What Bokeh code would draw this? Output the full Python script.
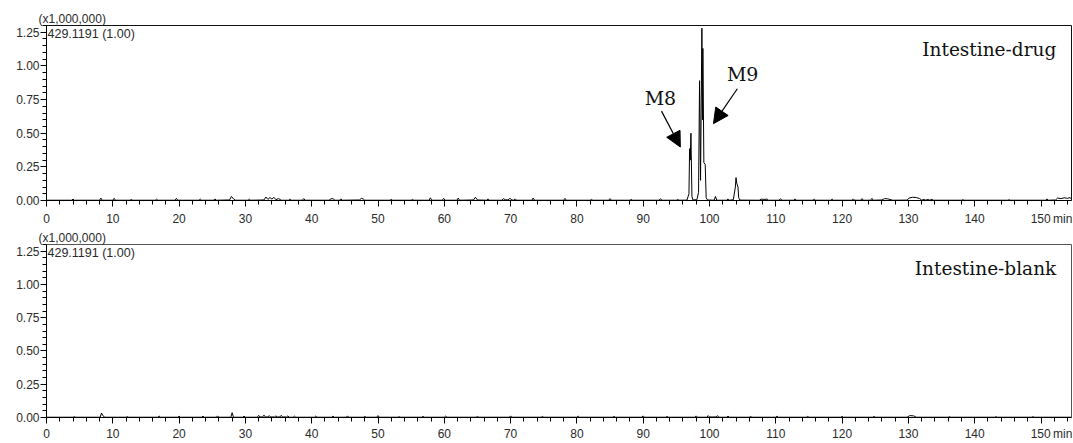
from bokeh.plotting import figure
from bokeh.layouts import column
from bokeh.models import Range1d, FixedTicker, PrintfTickFormatter, Label, Arrow, NormalHead
from bokeh.embed import file_html
from bokeh.resources import INLINE

# ---------------- data (time in min, intensity in x1,000,000) ----------------
x_ticks = [0, 10, 20, 30, 40, 50, 60, 70, 80, 90, 100, 110, 120, 130, 140, 150]
x_minor = [i * 2 for i in range(0, 78)]
y_ticks = [0.0, 0.25, 0.50, 0.75, 1.00, 1.25]
y_minor = [round(i * 0.05, 2) for i in range(0, 27)]
x_last_label = "\u2007\u2007\u2007\u200a150\u2009min"

scale_text = "(x1,000,000)"
ion_text = "429.1191 (1.00)"
panel_names = ["Intestine-drug", "Intestine-blank"]
peak_names = ["M8", "M9"]

drug_time = [
    0.0, 3.8, 4.0, 4.2, 8.0, 8.2, 8.4, 10.0, 10.2, 10.4, 12.6, 12.8, 13.0,
    16.4, 16.6, 16.8, 19.4, 19.6, 19.8, 23.0, 23.2, 23.4, 25.2, 25.4, 25.6, 27.6, 27.9, 28.2, 28.5,
    30.4, 30.6, 30.8, 32.8, 33.1, 33.4, 33.7, 34.0, 34.3, 34.6, 35.0, 35.4, 36.5, 36.7, 36.9, 38.6, 38.8, 39.0,
    42.6, 42.9, 43.2, 43.5, 44.2, 44.4, 44.6, 47.2, 47.5, 47.8, 48.0, 51.8, 52.0, 52.2, 55.0, 55.2, 55.4, 57.7, 57.9, 58.1,
    59.7, 59.9, 60.1, 61.9, 62.1, 62.3, 64.4, 64.7, 65.0, 66.4, 66.6, 66.8, 68.7, 68.9, 69.2, 69.6, 69.9, 70.2, 70.5, 70.7, 70.9, 73.2, 73.4, 73.6, 78.0, 78.2, 78.4,
    82.0, 82.2, 82.4, 84.8, 85.0, 85.2, 88.0, 88.2, 88.4, 92.4, 92.6, 92.8, 95.0, 95.2, 95.4,
    96.6, 96.9, 97.0, 97.1, 97.2, 97.35, 97.5, 98.1, 98.35, 98.5, 98.65, 98.85, 98.95, 99.0, 99.15, 99.35, 99.5, 99.7,
    100.7, 100.9, 101.1, 102.6, 102.8, 103.0, 103.6, 103.9, 104.0, 104.1, 104.3, 104.4, 104.6,
    107.5, 107.8, 108.2, 108.7, 108.9, 110.5, 110.7, 110.9, 112.7, 112.9, 113.1, 115.6, 115.8, 116.0, 118.3, 118.5, 118.7,
    121.5, 121.7, 121.9, 122.8, 123.0, 123.2, 124.3, 124.5, 124.7, 126.0, 126.4, 126.9, 127.5, 127.7,
    129.8, 130.1, 130.6, 131.2, 131.7, 132.0, 132.4, 132.6, 133.0, 133.2, 133.6, 133.8, 138.0, 138.2, 138.4,
    145.0, 145.2, 145.4, 150.7, 150.9, 151.1, 152.2, 152.5, 153.0, 153.5, 154.0, 154.4, 154.6,
]
drug_signal = [
    0.002, 0.002, 0.010, 0.002, 0.002, 0.018, 0.002, 0.002, 0.016, 0.002, 0.002, 0.008, 0.002,
    0.002, 0.010, 0.002, 0.002, 0.016, 0.002, 0.002, 0.010, 0.002, 0.002, 0.012, 0.002, 0.004, 0.030, 0.012, 0.002,
    0.002, 0.010, 0.002, 0.004, 0.026, 0.008, 0.022, 0.010, 0.024, 0.006, 0.014, 0.002, 0.002, 0.010, 0.002, 0.002, 0.014, 0.002,
    0.002, 0.012, 0.014, 0.002, 0.002, 0.012, 0.002, 0.004, 0.016, 0.010, 0.002, 0.002, 0.008, 0.002, 0.002, 0.008, 0.002, 0.002, 0.020, 0.002,
    0.002, 0.016, 0.002, 0.002, 0.018, 0.002, 0.004, 0.024, 0.004, 0.002, 0.012, 0.002, 0.002, 0.014, 0.006, 0.004, 0.016, 0.004, 0.002, 0.012, 0.002, 0.002, 0.018, 0.002, 0.002, 0.016, 0.002,
    0.002, 0.008, 0.002, 0.002, 0.014, 0.002, 0.002, 0.008, 0.002, 0.002, 0.014, 0.002, 0.002, 0.008, 0.002,
    0.003, 0.05, 0.385, 0.30, 0.50, 0.03, 0.004, 0.006, 0.06, 0.89, 0.15, 1.28, 0.60, 1.13, 0.28, 0.27, 0.02, 0.004,
    0.002, 0.030, 0.002, 0.002, 0.012, 0.002, 0.006, 0.10, 0.17, 0.13, 0.10, 0.02, 0.003,
    0.002, 0.010, 0.008, 0.010, 0.002, 0.002, 0.014, 0.002, 0.002, 0.012, 0.002, 0.002, 0.010, 0.002, 0.002, 0.010, 0.002,
    0.002, 0.012, 0.002, 0.002, 0.014, 0.002, 0.002, 0.016, 0.002, 0.004, 0.014, 0.012, 0.004, 0.002,
    0.003, 0.018, 0.024, 0.022, 0.014, 0.003, 0.008, 0.003, 0.008, 0.003, 0.008, 0.002, 0.002, 0.006, 0.002,
    0.002, 0.006, 0.002, 0.002, 0.012, 0.002, 0.004, 0.018, 0.014, 0.020, 0.016, 0.022, 0.010,
]

blank_time = [
    0.0, 4.0, 4.2, 4.4, 8.1, 8.3, 8.5, 8.8, 12.0, 12.2, 12.4, 16.8, 17.0, 17.2, 19.8, 20.0, 20.2, 23.4, 23.6, 23.8, 25.6, 25.8, 26.0, 27.8, 28.0, 28.2,
    29.6, 29.8, 30.0, 31.8, 32.0, 32.2, 32.6, 32.8, 33.0, 33.4, 33.6, 33.8, 34.4, 34.6, 34.8, 35.2, 35.4, 35.6, 36.2, 36.4, 36.6, 37.2, 37.4, 37.6,
    40.4, 40.6, 40.8, 43.0, 43.2, 43.4, 45.2, 45.4, 45.6, 47.8, 48.0, 48.2, 49.8, 50.0, 50.2, 53.0, 53.2, 53.4, 56.6, 56.8, 57.0, 60.0, 60.2, 60.4,
    64.8, 65.0, 65.2, 69.8, 70.0, 70.2, 74.6, 74.8, 75.0, 80.0, 80.2, 80.4, 85.4, 85.6, 85.8, 89.8, 90.0, 90.2, 93.4, 93.6, 93.8,
    97.8, 98.0, 98.2, 99.6, 99.8, 100.0, 101.0, 101.2, 101.4, 102.6, 102.8, 103.0, 106.0, 106.2, 106.4, 110.0, 110.2, 110.4,
    114.6, 114.8, 115.0, 119.8, 120.0, 120.2, 124.6, 124.8, 125.0, 129.8, 130.2, 130.8, 131.2, 136.0, 136.2, 136.4,
    143.0, 143.2, 143.4, 148.6, 148.8, 149.0, 154.6,
]
blank_signal = [
    0.002, 0.002, 0.006, 0.002, 0.002, 0.034, 0.014, 0.002, 0.002, 0.006, 0.002, 0.002, 0.010, 0.002, 0.002, 0.010, 0.002, 0.002, 0.010, 0.002, 0.002, 0.012, 0.002, 0.002, 0.036, 0.002,
    0.002, 0.010, 0.002, 0.002, 0.016, 0.004, 0.004, 0.018, 0.004, 0.004, 0.014, 0.004, 0.004, 0.012, 0.004, 0.004, 0.016, 0.004, 0.004, 0.012, 0.002, 0.002, 0.010, 0.002,
    0.002, 0.010, 0.002, 0.002, 0.010, 0.002, 0.002, 0.012, 0.002, 0.002, 0.008, 0.002, 0.002, 0.014, 0.002, 0.002, 0.006, 0.002, 0.002, 0.008, 0.002, 0.002, 0.010, 0.002,
    0.002, 0.008, 0.002, 0.002, 0.012, 0.002, 0.002, 0.008, 0.002, 0.002, 0.010, 0.002, 0.002, 0.008, 0.002, 0.002, 0.012, 0.002, 0.002, 0.008, 0.002,
    0.002, 0.012, 0.002, 0.002, 0.014, 0.004, 0.004, 0.014, 0.002, 0.002, 0.010, 0.002, 0.002, 0.008, 0.002, 0.002, 0.010, 0.002,
    0.002, 0.008, 0.002, 0.002, 0.008, 0.002, 0.002, 0.008, 0.002, 0.002, 0.014, 0.012, 0.002, 0.002, 0.006, 0.002,
    0.002, 0.006, 0.002, 0.002, 0.006, 0.002, 0.002,
]

assert len(drug_time) == len(drug_signal), (len(drug_time), len(drug_signal))
assert len(blank_time) == len(blank_signal), (len(blank_time), len(blank_signal))

# ---------------- styling ----------------
SANS = "Liberation Sans"
SERIF = "DejaVu Serif"
TXT = "#2a2a2a"
X_END = 154.6
Y_END = 1.30


def make_panel(height, top, bottom, standoff, time, signal, name, outline):
    p = figure(width=1073, height=height,
               x_range=Range1d(0, X_END), y_range=Range1d(0, Y_END),
               output_backend="svg", toolbar_location=None,
               title=scale_text,
               min_border_left=46, min_border_right=2,
               min_border_top=top, min_border_bottom=bottom)
    p.grid.visible = False
    p.outline_line_color = outline
    p.outline_line_width = 1
    p.background_fill_color = "white"
    p.border_fill_color = "white"

    p.title.align = "left"
    p.title.offset = -8
    p.title.standoff = 0
    p.title.text_font = SANS
    p.title.text_font_size = "12px"
    p.title.text_font_style = "normal"
    p.title.text_color = TXT

    p.line(time, signal, line_color="black", line_width=1)

    xa = p.xaxis[0]
    xa.ticker = FixedTicker(ticks=x_ticks, minor_ticks=x_minor)
    xa.major_label_overrides = {150: x_last_label}
    xa.major_tick_in = 0
    xa.major_tick_out = 6
    xa.minor_tick_in = 0
    xa.minor_tick_out = 4
    xa.axis_line_color = "black"
    xa.major_tick_line_color = "black"
    xa.minor_tick_line_color = "black"
    xa.major_label_text_font = SANS
    xa.major_label_text_font_size = "12px"
    xa.major_label_text_color = TXT
    xa.major_label_standoff = standoff

    ya = p.yaxis[0]
    ya.ticker = FixedTicker(ticks=y_ticks, minor_ticks=y_minor)
    ya.formatter = PrintfTickFormatter(format="%.2f")
    ya.major_tick_in = 0
    ya.major_tick_out = 6
    ya.minor_tick_in = 0
    ya.minor_tick_out = 4
    ya.axis_line_color = "black"
    ya.major_tick_line_color = "black"
    ya.minor_tick_line_color = "black"
    ya.major_label_text_font = SANS
    ya.major_label_text_font_size = "12px"
    ya.major_label_text_color = TXT
    ya.major_label_standoff = 1

    p.add_layout(Label(x=0, y=Y_END, x_offset=1, y_offset=-1, text=ion_text,
                       text_baseline="top", text_font=SANS,
                       text_font_size="12.5px", text_color=TXT))
    p.add_layout(Label(x=152.3, y=1.12, text=name, text_align="right",
                       text_baseline="middle", text_font=SERIF,
                       text_font_size="18.5px", text_color="#111111"))
    return p


p1 = make_panel(228, 25, 25, 5, drug_time, drug_signal, panel_names[0], "#111111")
p2 = make_panel(215, 15, 23, 3, blank_time, blank_signal, panel_names[1], "#555555")

# peak annotations (M8, M9)
p1.add_layout(Label(x=92.6, y=0.76, text=peak_names[0], text_align="center",
                    text_baseline="middle", text_font=SERIF,
                    text_font_size="19px", text_color="#111111"))
p1.add_layout(Label(x=105.0, y=0.94, text=peak_names[1], text_align="center",
                    text_baseline="middle", text_font=SERIF,
                    text_font_size="19px", text_color="#111111"))
p1.add_layout(Arrow(end=NormalHead(size=15, fill_color="black", line_color="black"),
                    x_start=92.76, y_start=0.664, x_end=95.6, y_end=0.397,
                    line_color="black", line_width=1.2))
p1.add_layout(Arrow(end=NormalHead(size=15, fill_color="black", line_color="black"),
                    x_start=104.2, y_start=0.83, x_end=100.6, y_end=0.571,
                    line_color="black", line_width=1.2))

layout = column(p1, p2, spacing=0)
open("out.html", "w").write(file_html(layout, INLINE))
